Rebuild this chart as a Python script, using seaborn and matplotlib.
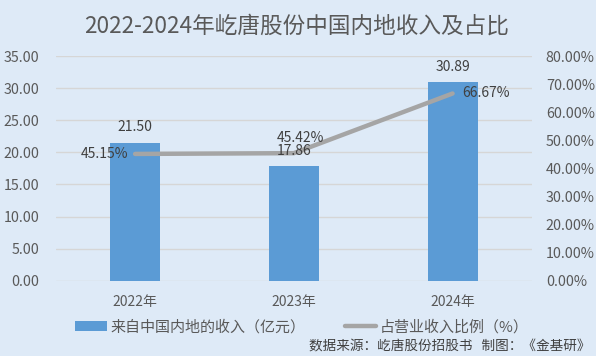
import numpy as np
import pandas as pd
import matplotlib
matplotlib.use("Agg")
import matplotlib.pyplot as plt
import seaborn as sns
from matplotlib.patches import Patch
from matplotlib.lines import Line2D

# -----------------------------------------------------------------------------
# DATA
# -----------------------------------------------------------------------------
years = ["2022年", "2023年", "2024年"]
revenue = [21.50, 17.86, 30.89]          # 来自中国内地的收入（亿元）
share_pct = [45.15, 45.42, 66.67]        # 占营业收入比例（%）

title = "2022-2024年屹唐股份中国内地收入及占比"
bar_label = "来自中国内地的收入（亿元）"
line_label = "占营业收入比例（%）"
source_note = "数据来源：屹唐股份招股书   制图：《金基研》"

BG = "#DEEAF7"
BAR_C = "#5B9BD5"
LINE_C = "#A5A5A5"
TXT = "#404040"
TICK = "#595959"

sns.set_theme(style="white")
plt.rcParams["font.family"] = ["Noto Sans CJK SC", "DejaVu Sans"]

df = pd.DataFrame({"year": years, "revenue": revenue, "share": share_pct,
                   "pos": np.arange(len(years))})

fig = plt.figure(figsize=(5.96, 3.56), dpi=100, facecolor=BG)
ax = fig.add_axes([0.0935, 0.2115, 0.799, 0.631])
ax.set_facecolor(BG)

# --- bars ---
sns.barplot(data=df, x="year", y="revenue", color=BAR_C, width=0.315,
            saturation=1, linewidth=0, edgecolor="none", ax=ax, zorder=2)
ax.set_xlim(-0.5, 2.5)
ax.set_ylim(0, 35)
ax.set_yticks(np.arange(0, 35.1, 5))
ax.set_yticklabels([f"{v:.2f}" for v in np.arange(0, 35.1, 5)])
ax.yaxis.grid(True, color="#D6D6D6", linewidth=1, zorder=0)
ax.set_axisbelow(True)
ax.set_xlabel("")
ax.set_ylabel("")
ax.tick_params(axis="x", length=0, labelsize=10, colors=TICK, pad=10)
ax.tick_params(axis="y", length=0, labelsize=10.3, colors=TICK, pad=12)
for s in ax.spines.values():
    s.set_visible(False)

# --- line on secondary axis ---
ax2 = ax.twinx()
sns.lineplot(data=df, x="pos", y="share", color=LINE_C, linewidth=3.2,
             ax=ax2, solid_capstyle="round", zorder=3)
ax2.set_xlim(-0.5, 2.5)
ax2.set_ylim(0, 80)
ax2.set_yticks(np.arange(0, 80.1, 10))
ax2.set_yticklabels([f"{v:.2f}%" for v in np.arange(0, 80.1, 10)])
ax2.set_ylabel("")
ax2.set_xlabel("")
ax2.tick_params(axis="y", length=0, labelsize=10.3, colors=TICK, pad=10)
for s in ax2.spines.values():
    s.set_visible(False)

# bar value labels drawn on top axis so they sit above the line
for p, v in zip(df["pos"], df["revenue"]):
    ax2.annotate(f"{v:.2f}", (p, v), xycoords=ax.transData, xytext=(0, 11),
                 textcoords="offset points", ha="center", va="center",
                 fontsize=10, color=TXT, zorder=5)

offsets = [(-22, 0), (5, 11), (24, 0)]
for p, v, (dx, dy) in zip(df["pos"], df["share"], offsets):
    ax2.annotate(f"{v:.2f}%", (p, v), xytext=(dx, dy), textcoords="offset points",
                 ha="center", va="center", fontsize=10, color=TXT, zorder=5)

# --- title / legend / note ---
fig.text(0.497, 0.927, title, ha="center", va="center", fontsize=16.3, color=TICK)

handles = [Patch(facecolor=BAR_C, edgecolor="none", label=bar_label),
           Line2D([0], [0], color=LINE_C, linewidth=3.2, solid_capstyle="round",
                  label=line_label)]
fig.legend(handles=handles, loc="center", bbox_to_anchor=(0.507, 0.081), ncol=2,
           frameon=False, fontsize=10.8, handlelength=2.1, handleheight=0.65,
           columnspacing=2.6, handletextpad=0.25, labelcolor=TICK)

fig.text(0.99, 0.028, source_note, ha="right", va="center", fontsize=9.8, color=TXT)

fig.savefig("out.png", dpi=100, facecolor=BG)
